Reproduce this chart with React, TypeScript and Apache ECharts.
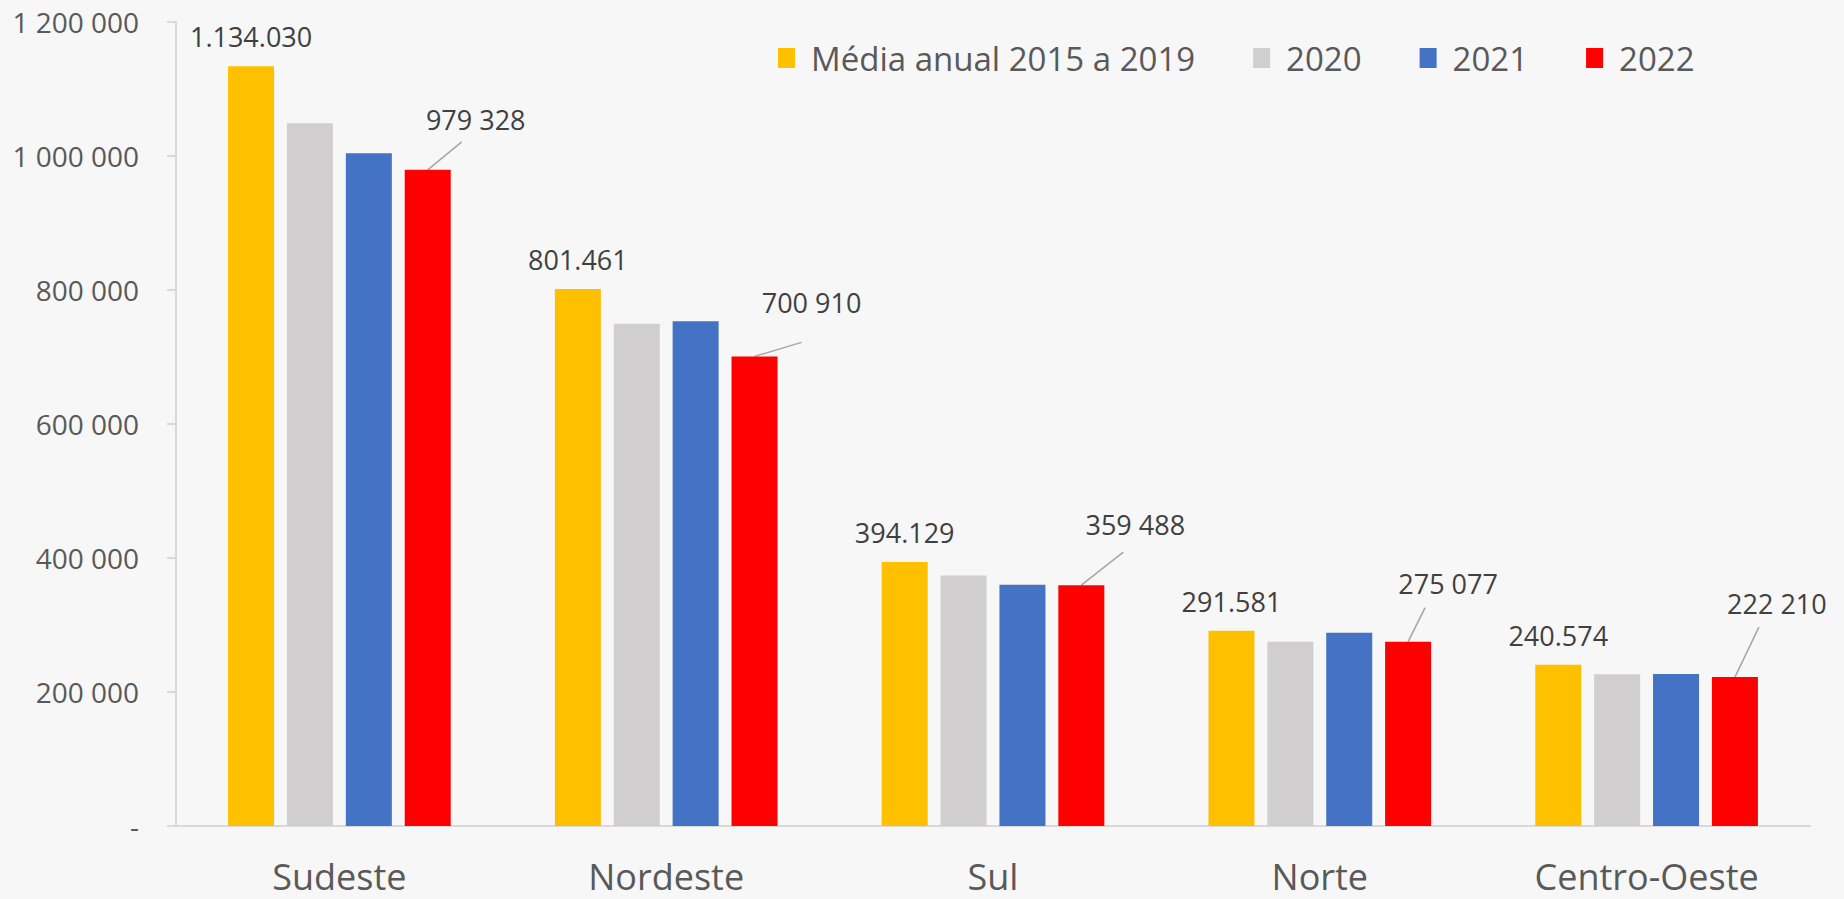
import React, { useEffect, useRef } from "react";
import * as echarts from "echarts";

const categories = ["Sudeste", "Nordeste", "Sul", "Norte", "Centro-Oeste"];
const seriesNames = ["Média anual 2015 a 2019", "2020", "2021", "2022"];
const media2015a2019 = [1134030, 801461, 394129, 291581, 240574];
const values2020 = [1049000, 749700, 374000, 275000, 226500];
const values2021 = [1004000, 753200, 360000, 288500, 227000];
const values2022 = [979328, 700910, 359488, 275077, 222210];
const colors = ["#FFC000", "#D0CECE", "#4472C4", "#FF0000"];
const yMin = 0;
const yMax = 1200000;
const yInterval = 200000;

// callout placement for the 2022 labels, relative to the bar's top centre
const calloutDx = [48, 57, 54, 40, 42];
const calloutDy = [-50, -54, -61, -58, -74];
// end of the leader line, relative to the bar's top centre
const leaderDx = [34, 47, 42, 17, 24];
const leaderDy = [-28, -14, -33, -34, -50];

const FONT = "'Open Sans', sans-serif";

const groupDigits = (n: number, sep: string) =>
  String(Math.round(n)).replace(/\B(?=(\d{3})+(?!\d))/g, sep);

export default function App() {
  const ref = useRef<HTMLDivElement>(null);
  useEffect(() => {
    if (!ref.current) return;
    const chart = echarts.init(ref.current, undefined, { renderer: "svg" });
    const barTops: { x: number; y: number }[] = [];
    const allValues = [media2015a2019, values2020, values2021, values2022];
    const series: any[] = allValues.map((vals, si) => {
      const s: any = {
        name: seriesNames[si],
        type: "bar",
        data: vals,
        barWidth: 46,
        barGap: "28%",
        itemStyle: { color: colors[si] },
      };
      if (si === 0) {
        s.label = {
          show: true,
          position: "top",
          distance: 16,
          fontFamily: FONT,
          fontSize: 27,
          color: "#404040",
          formatter: (p: any) => groupDigits(p.value, "."),
        };
      }
      if (si === 3) {
        s.label = {
          show: true,
          position: "top",
          fontFamily: FONT,
          fontSize: 27,
          color: "#404040",
          formatter: (p: any) => groupDigits(p.value, " "),
        };
        s.labelLayout = (p: any) => {
          const i = p.dataIndex;
          const cx = p.rect.x + p.rect.width / 2;
          const top = p.rect.y;
          barTops[i] = { x: cx, y: top };
          return {
            x: cx + calloutDx[i],
            y: top + calloutDy[i],
            align: "center",
            verticalAlign: "middle",
          };
        };
      }
      return s;
    });

    chart.setOption({
      animation: false,
      backgroundColor: "#f7f7f7",
      color: colors,
      textStyle: { fontFamily: FONT },
      legend: {
        left: 773,
        top: 33,
        itemWidth: 17,
        itemHeight: 20,
        itemGap: 58,
        icon: "rect",
        data: seriesNames,
        textStyle: {
          fontFamily: FONT,
          fontSize: 33,
          color: "#595959",
          padding: [0, 0, 0, 11],
          lineHeight: 40,
        },
      },
      grid: { left: 176, right: 34, top: 22, bottom: 73, containLabel: false },
      xAxis: {
        type: "category",
        data: categories,
        axisLine: { show: true, lineStyle: { color: "#d9d9d9", width: 2 } },
        axisTick: { show: false },
        axisLabel: {
          fontFamily: FONT,
          fontSize: 36,
          lineHeight: 30,
          color: "#595959",
          margin: 35,
        },
      },
      yAxis: {
        type: "value",
        min: yMin,
        max: yMax,
        interval: yInterval,
        splitLine: { show: false },
        axisLine: { show: true, lineStyle: { color: "#d9d9d9", width: 2 } },
        axisTick: { show: true, length: 9, lineStyle: { color: "#d9d9d9", width: 2 } },
        axisLabel: {
          fontFamily: FONT,
          fontSize: 28,
          color: "#595959",
          margin: 37,
          formatter: (v: number) => (v === 0 ? "-" : groupDigits(v, " ")),
        },
      },
      series,
    });

    const lines = barTops
      .map((t, i) =>
        t
          ? {
              type: "line",
              silent: true,
              shape: {
                x1: t.x,
                y1: t.y,
                x2: t.x + leaderDx[i],
                y2: t.y + leaderDy[i],
              },
              style: { stroke: "#a6a6a6", lineWidth: 1.5 },
            }
          : null
      )
      .filter(Boolean);
    chart.setOption({ graphic: lines });

    return () => chart.dispose();
  }, []);
  return (
    <div
      ref={ref}
      style={{ position: "fixed", left: 0, top: 0, width: 1844, height: 899 }}
    />
  );
}
